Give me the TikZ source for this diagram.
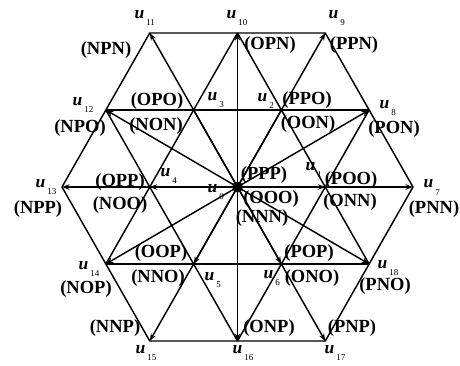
\documentclass[tikz,border=0pt]{standalone}
\usepackage{fontspec}
\setmainfont{Liberation Serif}
\usetikzlibrary{arrows.meta}
\newcommand\lblfont{\fontsize{18.5}{18.5}\selectfont\bfseries}
\newcommand\ufont{\fontsize{17.5}{17.5}\selectfont\bfseries\itshape}
\newcommand\subfont{\fontsize{9}{9}\selectfont\mdseries\upshape}
\newcommand\uvec[1]{{\ufont u}\hspace{1.8pt}\raisebox{-7pt}{\subfont #1}}
\begin{document}
\begin{tikzpicture}[x=1pt,y=-1pt,line width=1.45pt,
  vec/.style={-{Stealth[length=7.5pt,width=5.5pt]}},
  gridline/.style={line join=miter},
  lbl/.style={font=\lblfont,inner sep=0pt},
  ulbl/.style={anchor=base west,inner sep=0pt}]
\fill[white] (0,0) rectangle (460,366);
\useasboundingbox (0,0) rectangle (460,366);
% vertices
\coordinate (O) at (237.5,187);
\coordinate (u1) at (325.25,187);
\coordinate (u2) at (281.4,110);
\coordinate (u3) at (193.6,110);
\coordinate (u4) at (149.75,187);
\coordinate (u5) at (193.6,264);
\coordinate (u6) at (281.4,264);
\coordinate (u7) at (413,187);
\coordinate (u8) at (369.1,110);
\coordinate (u9) at (325.25,33);
\coordinate (u10) at (237.5,33);
\coordinate (u11) at (149.75,33);
\coordinate (u12) at (105.9,110);
\coordinate (u13) at (62,187);
\coordinate (u14) at (105.9,264);
\coordinate (u15) at (149.75,341);
\coordinate (u16) at (237.5,341);
\coordinate (u17) at (325.25,341);
\coordinate (u18) at (369.1,264);
% grid lines
\draw[gridline] (u11) -- (u9) -- (u7) -- (u17) -- (u15) -- (u13) -- cycle;
\draw[gridline] (u12) -- (u8);
\draw[gridline] (u14) -- (u18);
\draw[gridline] (u14) -- (u10);
\draw[gridline] (u16) -- (u8);
\draw[gridline] (u10) -- (u18);
\draw[gridline] (u12) -- (u16);
% vectors
\foreach \t in {u7,u9,u11,u13,u15,u17,u8,u10,u12,u14,u16,u18,u1,u4,u5,u6}
  \draw[vec] (O) -- (\t);
\draw (O) -- (u2);
\draw (O) -- (u3);
\fill (O) circle (5.5);
% u labels
\node[ulbl] (l0) at (207,193) {\uvec{0}};
\node[ulbl] (l1) at (305,171) {\uvec{1}};
\node[ulbl] (l2) at (257,102) {\uvec{2}};
\node[ulbl] (l3) at (207,101) {\uvec{3}};
\node[ulbl] (l4) at (160,176) {\uvec{4}};
\node[ulbl] (l5) at (204,280) {\uvec{5}};
\node[ulbl] (l6) at (263,278) {\uvec{6}};
\node[ulbl] (l7) at (423,188) {\uvec{7}};
\node[ulbl] (l8) at (379,109) {\uvec{8}};
\node[ulbl] (l9) at (328,19) {\uvec{9}};
\node[ulbl] (l10) at (226,19) {\uvec{10}};
\node[ulbl] (l11) at (134,19) {\uvec{11}};
\node[ulbl] (l12) at (72,106) {\uvec{12}};
\node[ulbl] (l13) at (35,187) {\uvec{13}};
\node[ulbl] (l14) at (78,269) {\uvec{14}};
\node[ulbl] (l15) at (135,353) {\uvec{15}};
\node[ulbl] (l16) at (232,353) {\uvec{16}};
\node[ulbl] (l17) at (324,353) {\uvec{17}};
\node[ulbl] (l18) at (377,268) {\uvec{18}};
% state labels
\node[lbl] (sNPN) at (106,50) {(NPN)};
\node[lbl] (sOPN) at (270,45) {(OPN)};
\node[lbl] (sPPN) at (354,45) {(PPN)};
\node[lbl] (sNPO) at (80,128) {(NPO)};
\node[lbl] (sOPO) at (157,101) {(OPO)};
\node[lbl] (sNON) at (156,126) {(NON)};
\node[lbl] (sPPO) at (307,100) {(PPO)};
\node[lbl] (sOON) at (308,124) {(OON)};
\node[lbl] (sPON) at (394,129) {(PON)};
\node[lbl] (sPPP) at (264,175) {(PPP)};
\node[lbl] (sOOO) at (271,199) {(OOO)};
\node[lbl] (sNNN) at (262,218) {(NNN)};
\node[lbl] (sPOO) at (351,180) {(POO)};
\node[lbl] (sONN) at (350,202) {(ONN)};
\node[lbl] (sPNN) at (434,209) {(PNN)};
\node[lbl] (sNPP) at (38,209) {(NPP)};
\node[lbl] (sOPP) at (120,182) {(OPP)};
\node[lbl] (sNOO) at (120,205) {(NOO)};
\node[lbl] (sNOP) at (86,289) {(NOP)};
\node[lbl] (sOOP) at (161,253) {(OOP)};
\node[lbl] (sNNO) at (158,278) {(NNO)};
\node[lbl] (sNNP) at (115,328) {(NNP)};
\node[lbl] (sPOP) at (309,253) {(POP)};
\node[lbl] (sONO) at (312,278) {(ONO)};
\node[lbl] (sPNO) at (385,286) {(PNO)};
\node[lbl] (sONP) at (269,328) {(ONP)};
\node[lbl] (sPNP) at (352,328) {(PNP)};
\end{tikzpicture}
\end{document}
